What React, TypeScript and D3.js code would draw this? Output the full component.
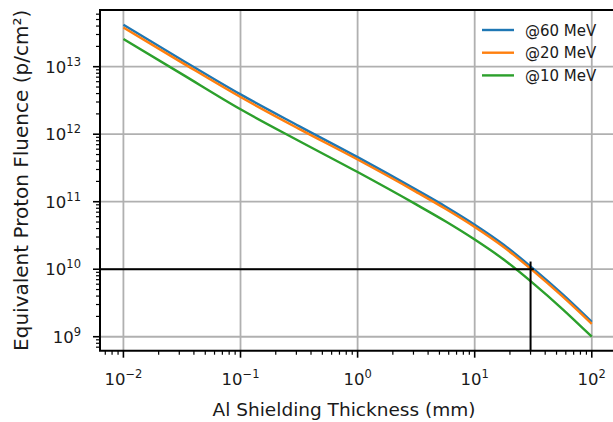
import React from "react";
import * as d3 from "d3";

const thickness = [0.01, 0.0316, 0.1, 0.316, 1, 3.16, 5.62, 10, 17.8, 31.6, 56.2, 100];
const fluence60 = [4.17e13, 1.26e13, 3.89e12, 1.32e12, 4.57e11, 1.51e11, 8.51e10, 4.57e10, 2.29e10, 1.02e10, 4.27e9, 1.66e9];
const fluence20 = [3.8e13, 1.15e13, 3.55e12, 1.2e12, 4.22e11, 1.4e11, 7.85e10, 4.22e10, 2.11e10, 9.44e9, 3.95e9, 1.55e9];
const fluence10 = [2.57e13, 7.76e12, 2.34e12, 7.94e11, 2.75e11, 9.12e10, 5.13e10, 2.75e10, 1.38e10, 6.17e9, 2.57e9, 1.0e9];
const seriesNames = ["@60 MeV", "@20 MeV", "@10 MeV"];
const seriesColors = ["#1f77b4", "#ff7f0e", "#2ca02c"];
const xTickExps = [-2, -1, 0, 1, 2];
const yTickExps = [9, 10, 11, 12, 13];
const refFluence = 1e10;
const refThickness = 30;
const refHEnd = 32;
const refVTop = 1.3e10;

const W = 613, H = 422;
const L = 100, T = 10, B = 350.7, R = 615.2;

export default function App() {
  const x = d3.scaleLog().domain([Math.pow(10, -2.2), Math.pow(10, 2.2)]).range([L, R]);
  const y = d3.scaleLog().domain([Math.pow(10, 8.793), Math.pow(10, 13.84)]).range([B, T]);
  const allSeries = [fluence60, fluence20, fluence10];
  const line = d3
    .line<[number, number]>()
    .x((d) => x(d[0]))
    .y((d) => y(d[1]))
    .curve(d3.curveMonotoneX);

  const xMinor: number[] = [];
  for (let e = -3; e <= 2; e++) for (let m = 2; m <= 9; m++) {
    const v = m * Math.pow(10, e);
    const px = x(v);
    if (px >= L && px <= W) xMinor.push(v);
  }
  const yMinor: number[] = [];
  for (let e = 8; e <= 13; e++) for (let m = 2; m <= 9; m++) {
    const v = m * Math.pow(10, e);
    const py = y(v);
    if (py >= T && py <= B) yMinor.push(v);
  }
  const font = "DejaVu Sans, sans-serif";
  const minus = "\u2212";

  return (
    <svg width={W} height={H} style={{ position: "absolute", left: 0, top: 0, background: "#fff" }} fontFamily={font}>
      <defs>
        <clipPath id="plot">
          <rect x={L} y={T} width={R - L} height={B - T} />
        </clipPath>
      </defs>
      {/* grid */}
      <g stroke="#b0b0b0" strokeWidth={1.8}>
        {xTickExps.map((e) => (
          <line key={"gx" + e} x1={x(Math.pow(10, e))} x2={x(Math.pow(10, e))} y1={T} y2={B} />
        ))}
        {yTickExps.map((e) => (
          <line key={"gy" + e} x1={L} x2={R} y1={y(Math.pow(10, e))} y2={y(Math.pow(10, e))} />
        ))}
      </g>
      {/* data */}
      <g clipPath="url(#plot)" fill="none" strokeWidth={2.4}>
        {allSeries.map((s, i) => (
          <path key={i} d={line(thickness.map((t, j) => [t, s[j]]) as [number, number][]) || ""} stroke={seriesColors[i]} />
        ))}
      </g>
      {/* reference lines */}
      <g stroke="#000" strokeWidth={2}>
        <line x1={L} x2={x(refHEnd)} y1={y(refFluence)} y2={y(refFluence)} />
        <line x1={x(refThickness)} x2={x(refThickness)} y1={B} y2={y(refVTop)} />
      </g>
      {/* spines */}
      <g stroke="#000" strokeWidth={2} fill="none">
        <line x1={L} x2={L} y1={T} y2={B} />
        <line x1={L - 1} x2={R} y1={B} y2={B} />
        <line x1={L - 1} x2={R} y1={T} y2={T} />
        <line x1={R} x2={R} y1={T} y2={B} />
      </g>
      {/* ticks */}
      <g stroke="#000">
        {xTickExps.map((e) => (
          <line key={"xt" + e} x1={x(Math.pow(10, e))} x2={x(Math.pow(10, e))} y1={B} y2={B + 7} strokeWidth={1.6} />
        ))}
        {xMinor.map((v, i) => (
          <line key={"xm" + i} x1={x(v)} x2={x(v)} y1={B} y2={B + 4} strokeWidth={1.2} />
        ))}
        {yTickExps.map((e) => (
          <line key={"yt" + e} x1={L - 7} x2={L} y1={y(Math.pow(10, e))} y2={y(Math.pow(10, e))} strokeWidth={1.6} />
        ))}
        {yMinor.map((v, i) => (
          <line key={"ym" + i} x1={L - 4} x2={L} y1={y(v)} y2={y(v)} strokeWidth={1.2} />
        ))}
      </g>
      {/* tick labels */}
      <g fill="#1a1a1a" fontSize={16.5}>
        {xTickExps.map((e) => (
          <text key={"xl" + e} x={x(Math.pow(10, e))} y={385} textAnchor="middle">
            10
            <tspan dy={-7} fontSize={11.5}>{e < 0 ? minus + Math.abs(e) : String(e)}</tspan>
          </text>
        ))}
        {yTickExps.map((e) => (
          <text key={"yl" + e} x={81} y={y(Math.pow(10, e)) + 6} textAnchor="end">
            10
            <tspan dy={-7} fontSize={11.5}>{String(e)}</tspan>
          </text>
        ))}
      </g>
      {/* axis labels */}
      <text x={344} y={416} textAnchor="middle" fontSize={18.5} fill="#1a1a1a">
        Al Shielding Thickness (mm)
      </text>
      <text
        transform={`translate(28, ${(T + B) / 2}) rotate(-90)`}
        textAnchor="middle"
        fontSize={20}
        fill="#1a1a1a"
      >
        Equivalent Proton Fluence (p/cm²)
      </text>
      {/* legend */}
      <g fontSize={15}>
        {seriesNames.map((n, i) => (
          <g key={n} transform={`translate(0, ${30 + i * 22.7})`}>
            <line x1={482} x2={514} y1={0} y2={0} stroke={seriesColors[i]} strokeWidth={2.4} />
            <text x={525} y={5.5} fill="#1a1a1a">{n}</text>
          </g>
        ))}
      </g>
    </svg>
  );
}
